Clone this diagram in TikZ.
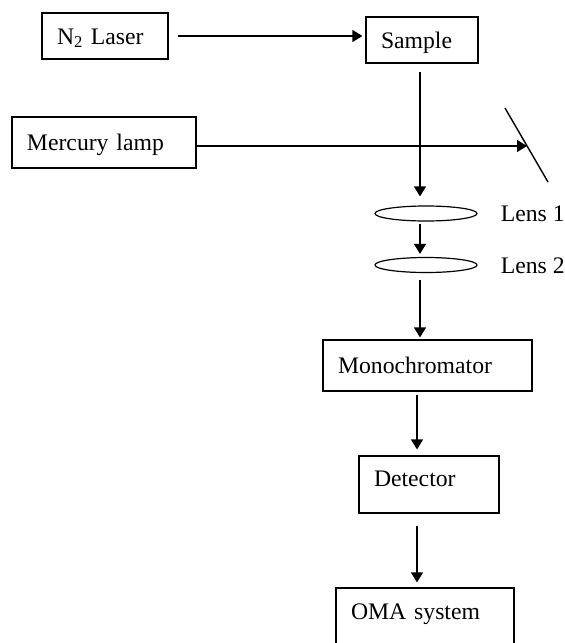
\documentclass[tikz,border=0pt]{standalone}
\usepackage{fontspec}
\setmainfont{Liberation Serif}
\usetikzlibrary{arrows.meta,shapes.geometric,positioning}

\tikzset{
	box/.style={draw, line width=1.2pt, inner xsep=15pt, align=left, text height=16pt, text depth=0pt},
	lens/.style={draw, ellipse, line width=1.2pt, minimum width=102pt, minimum height=15pt, inner sep=0pt},
	lenslabel/.style={inner sep=0pt, text height=16pt, text depth=0pt},
	ray/.style={line width=1.2pt, -{Triangle[length=10pt,width=12pt]}}
}

\begin{document}
\begin{tikzpicture}[x=1pt,y=-1pt,font=\fontsize{23.7}{28}\selectfont]
				\useasboundingbox (0,0) rectangle (565,643);
				
				\node[box, text width=96pt, minimum height=46pt] (laser) at (105,36) {N\textsubscript{2} Laser};
				\node[box, text width=82pt, minimum height=46pt] (sample) at (422,40) {Sample};
				\node[box, text width=154pt, minimum height=51pt] (lamp) at (104,142.5) {Mercury lamp};
				
				\coordinate (mtop) at (505,108);
				\coordinate (mbot) at (548,182);
				\coordinate (hit) at (527,146);
				\draw[line width=1.4pt] (mtop) -- (mbot);
				
				\coordinate (axis) at (420,0);
				\coordinate (lowaxis) at (417,0);
				
				\node[lens] (lens1) at (426,213.5) {};
				\node[lens] (lens2) at (426,265) {};
				\node[lenslabel, right=23pt of lens1] (lab1) {Lens 1};
				\node[lenslabel, right=23pt of lens2] (lab2) {Lens 2};
				
				\node[box, text width=179pt, minimum height=51pt] (mono) at (427.5,365.5) {Monochromator};
				\node[box, text width=110pt, minimum height=57pt, text depth=13pt] (det) at (429,484.5) {Detector};
				\node[box, text width=148pt, minimum height=70pt, text depth=23pt] (oma) at (425,623) {OMA system};
				
				\draw[ray, shorten <=9pt, shorten >=3pt] (laser.east) -- (laser.east -| sample.west);
				\draw[ray] (lamp.east |- hit) -- (hit);
				
				\draw[ray, shorten <=8pt, shorten >=9pt] (sample.south -| axis) -- (lens1.north -| axis);
				\draw[ray, shorten <=2pt, shorten >=3pt] (lens1.south -| axis) -- (lens2.north -| axis);
				\draw[ray, shorten <=7pt, shorten >=2pt] (lens2.south -| axis) -- (mono.north -| axis);
				\draw[ray, shorten <=3pt, shorten >=6pt] (mono.south -| lowaxis) -- (det.north -| lowaxis);
				\draw[ray, shorten <=12pt, shorten >=5pt] (det.south -| lowaxis) -- (oma.north -| lowaxis);
\end{tikzpicture}
\end{document}
